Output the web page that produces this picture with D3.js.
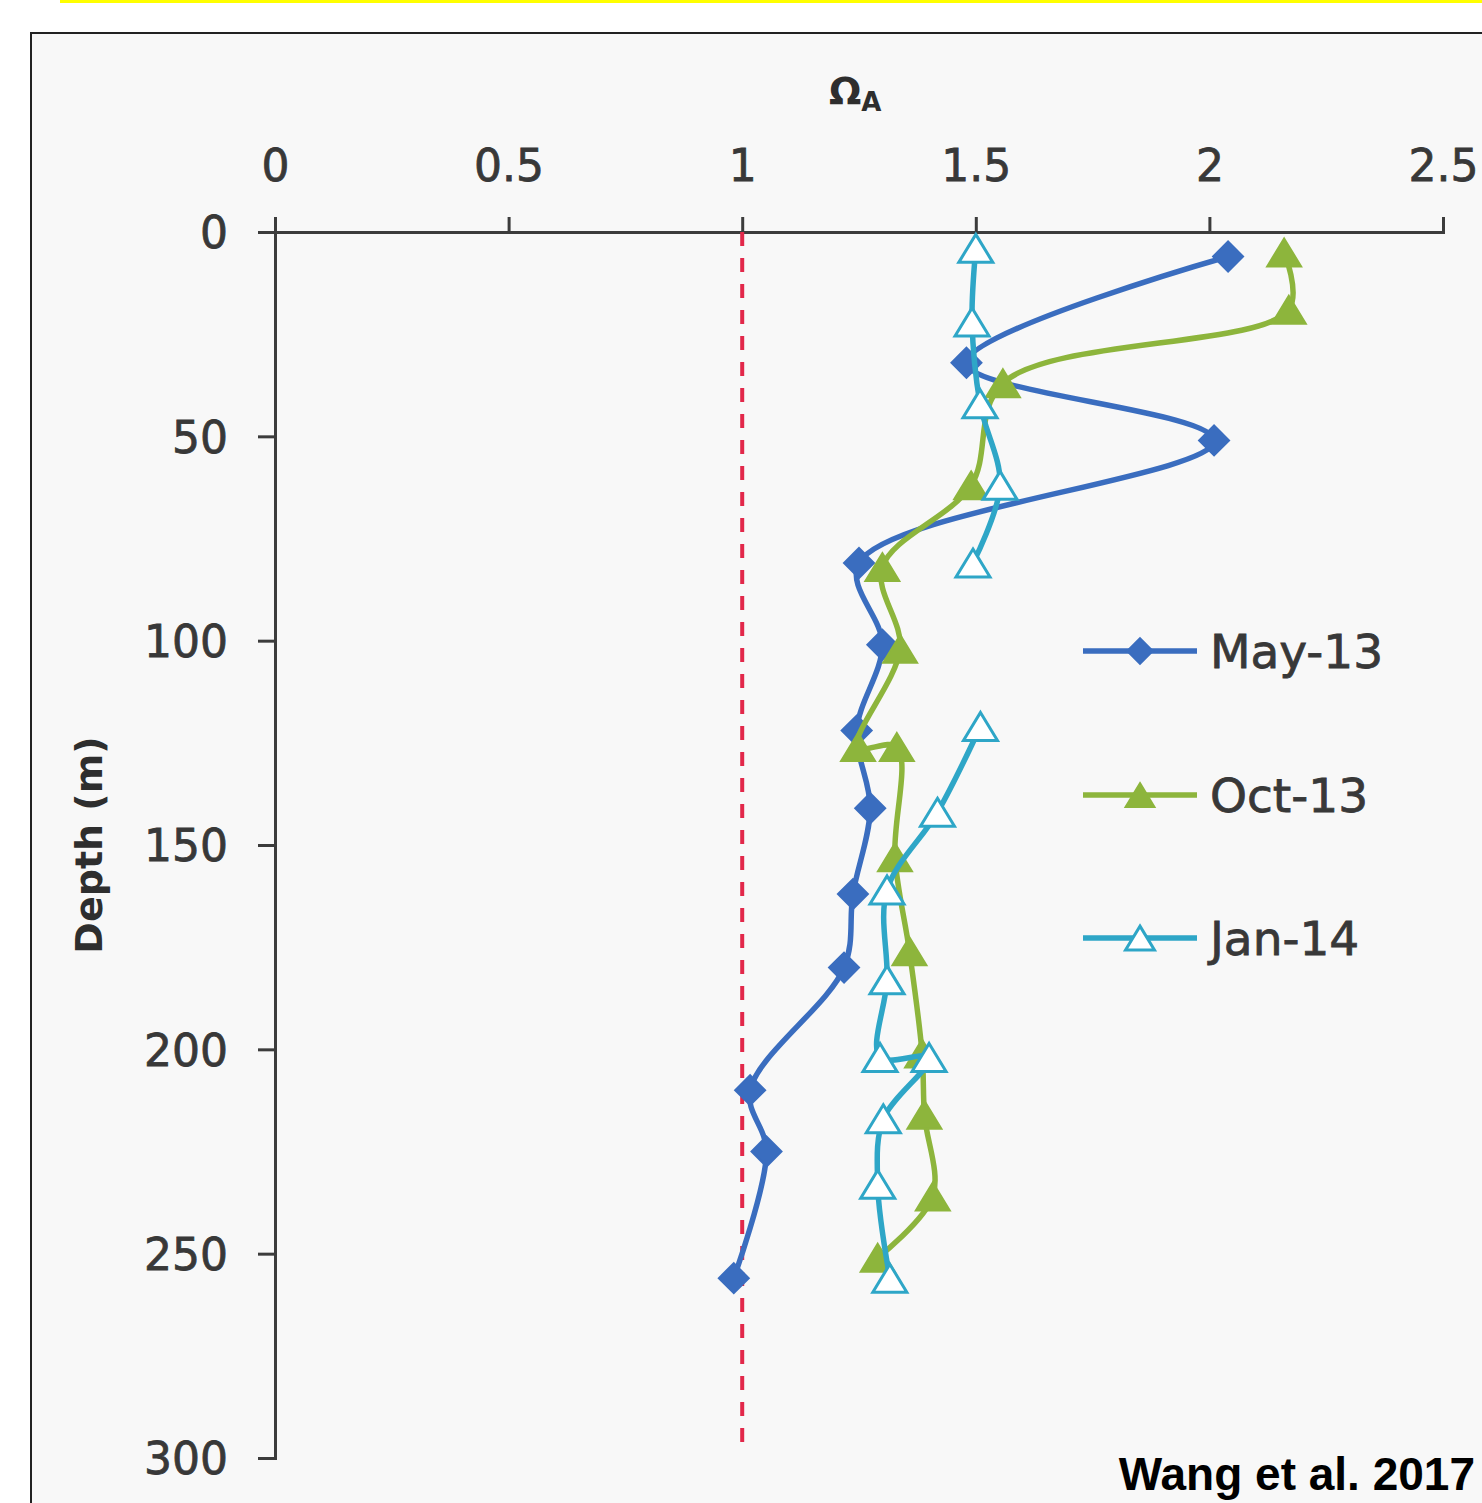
<!DOCTYPE html>
<html>
<head>
<meta charset="utf-8">
<script src="https://cdn.jsdelivr.net/npm/d3@7"></script>
<style>
  html, body { margin: 0; padding: 0; background: #ffffff; }
  svg { display: block; }
</style>
</head>
<body>
<svg id="chart" width="1482" height="1503"></svg>
<script>
// ---------------- data ----------------
const seriesNames = ["May-13", "Oct-13", "Jan-14"];

const depthMay = [6, 32, 51, 81, 101, 122, 141, 162, 180, 210, 225, 256];
const omegaMay = [2.04, 1.48, 2.01, 1.25, 1.30, 1.245, 1.274, 1.237, 1.218, 1.017, 1.052, 0.982];

const depthOct = [5, 19, 37, 62, 82, 102, 126, 126, 153, 176, 201, 216, 236, 251];
const omegaOct = [2.16, 2.17, 1.558, 1.49, 1.30, 1.338, 1.248, 1.331, 1.327, 1.358, 1.385, 1.39, 1.408, 1.29];

const depthJan = [4, 22, 42, 62, 81, 100, 121, 142, 161, 183, 202, 202, 217, 233, 256];
const omegaJan = [1.50, 1.492, 1.509, 1.552, 1.494, null, 1.51, 1.418, 1.31, 1.31, 1.295, 1.40, 1.302, 1.29, 1.316];

const xTickValues = [0, 0.5, 1, 1.5, 2, 2.5];
const xTickLabels = ["0", "0.5", "1", "1.5", "2", "2.5"];
const yTickValues = [0, 50, 100, 150, 200, 250, 300];
const yTickLabels = ["0", "50", "100", "150", "200", "250", "300"];

const refOmega = 1;          // saturation line
const refDepth = [0, 300];

const xTitle = "Ω";
const xTitleSub = "A";
const yTitle = "Depth (m)";
const credit = "Wang et al. 2017";

// ---------------- setup ----------------
const svg = d3.select("#chart");
const W = 1482, H = 1503;

// yellow strip at top and framed panel
svg.append("rect").attr("x", 60).attr("y", 0).attr("width", W - 60).attr("height", 3).attr("fill", "#ffff00");
svg.append("rect").attr("x", 31).attr("y", 33).attr("width", W).attr("height", H)
  .attr("fill", "#f8f8f8").attr("stroke", "#222").attr("stroke-width", 2);

const x = d3.scaleLinear().domain([0, 2.5]).range([275, 1443]);
const y = d3.scaleLinear().domain([0, 300]).range([232, 1458]);

const axisColor = "#3c3c3c";
const textColor = "#383838";
const tickFont = "DejaVu Sans, Verdana, sans-serif";

// x axis (top)
const gx = svg.append("g").attr("transform", `translate(0,${y(0)})`)
  .call(d3.axisTop(x).tickValues(xTickValues).tickFormat((d, i) => xTickLabels[i])
    .tickSize(15).tickPadding(36));
// y axis (left)
const gy = svg.append("g").attr("transform", `translate(${x(0)},0)`)
  .call(d3.axisLeft(y).tickValues(yTickValues).tickFormat((d, i) => yTickLabels[i])
    .tickSize(17).tickPadding(30));

[gx, gy].forEach(g => {
  g.selectAll("path.domain").attr("stroke", axisColor).attr("stroke-width", 3);
  g.selectAll(".tick line").attr("stroke", axisColor).attr("stroke-width", 3);
  g.selectAll(".tick text").attr("fill", textColor).attr("font-family", tickFont)
    .attr("font-size", 44).attr("stroke", textColor).attr("stroke-width", 0.8);
});
gy.selectAll(".tick text").attr("dy", "0.36em");

// axis titles
const xt = svg.append("text").attr("x", 829).attr("y", 104)
  .attr("font-family", tickFont).attr("font-weight", "bold").attr("fill", "#2e2e2e");
xt.append("tspan").attr("font-size", 38).text(xTitle);
xt.append("tspan").attr("font-size", 26).attr("dy", 7).text(xTitleSub);

svg.append("text")
  .attr("transform", `translate(102,${(735 + 955) / 2}) rotate(-90)`)
  .attr("text-anchor", "middle")
  .attr("font-family", tickFont).attr("font-weight", "bold").attr("font-size", 38)
  .attr("fill", "#2e2e2e").text(yTitle);

// reference dashed line at Omega = 1
svg.append("line")
  .attr("x1", x(refOmega)).attr("x2", x(refOmega))
  .attr("y1", y(refDepth[0])).attr("y2", y(refDepth[1]) - 6)
  .attr("stroke", "#e2284a").attr("stroke-width", 4).attr("stroke-dasharray", "14,12");

// ---------------- series ----------------
const series = [
  { name: seriesNames[0], depth: depthMay, omega: omegaMay, color: "#3a6dbf", marker: "diamond" },
  { name: seriesNames[1], depth: depthOct, omega: omegaOct, color: "#8db53c", marker: "triangle" },
  { name: seriesNames[2], depth: depthJan, omega: omegaJan, color: "#2ea6c7", marker: "opentriangle" }
];

function markerPath(type, s) {
  if (type === "diamond") {
    const h = 15 * s;
    return `M0,${-h}L${h},0L0,${h}L${-h},0Z`;
  }
  const hw = 17 * s, hh = 14 * s;
  return `M0,${-hh}L${hw},${hh}L${-hw},${hh}Z`;
}
function drawMarker(g, type, color, cx, cy, s) {
  const p = g.append("path").attr("d", markerPath(type, s))
    .attr("transform", `translate(${cx},${cy})`);
  if (type === "opentriangle") {
    p.attr("fill", "#ffffff").attr("stroke", color).attr("stroke-width", 3);
  } else {
    p.attr("fill", color).attr("stroke", color).attr("stroke-width", 2);
  }
}

const line = d3.line()
  .defined(d => d.v != null)
  .x(d => x(d.v)).y(d => y(d.d))
  .curve(d3.curveCatmullRom.alpha(0.5));

series.forEach(s => {
  const pts = s.depth.map((d, i) => ({ d: d, v: s.omega[i] }));
  const g = svg.append("g");
  g.append("path").datum(pts).attr("d", line)
    .attr("fill", "none").attr("stroke", s.color).attr("stroke-width", 5.5)
    .attr("stroke-linejoin", "round").attr("stroke-linecap", "round");
  pts.filter(p => p.v != null).forEach(p => drawMarker(g, s.marker, s.color, x(p.v), y(p.d), 1));
});

// ---------------- legend ----------------
const legendY = [651, 795, 938];
series.forEach((s, i) => {
  const g = svg.append("g");
  g.append("line").attr("x1", 1083).attr("x2", 1197).attr("y1", legendY[i]).attr("y2", legendY[i])
    .attr("stroke", s.color).attr("stroke-width", 5.5);
  drawMarker(g, s.marker, s.color, 1140, legendY[i], 0.85);
  g.append("text").attr("x", 1210).attr("y", legendY[i]).attr("dy", "0.36em")
    .attr("font-family", tickFont).attr("font-size", 47).attr("fill", textColor)
    .attr("stroke", textColor).attr("stroke-width", 0.8)
    .text(s.name);
});

// credit
svg.append("text").attr("x", 1475).attr("y", 1490).attr("text-anchor", "end")
  .attr("font-family", "Liberation Sans, Arial, sans-serif").attr("font-weight", "bold")
  .attr("font-size", 46).attr("fill", "#000").text(credit);
</script>
</body>
</html>
